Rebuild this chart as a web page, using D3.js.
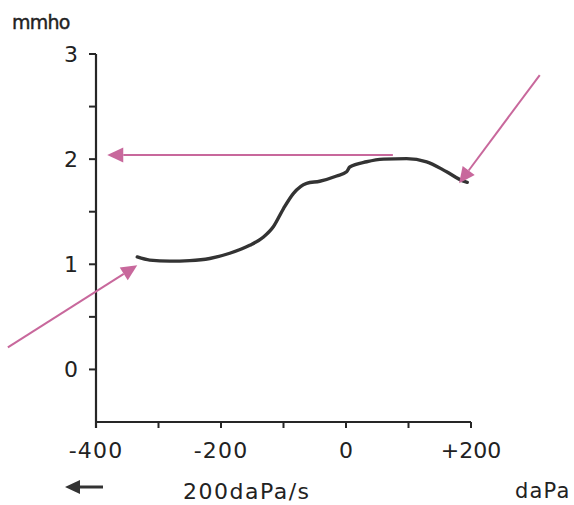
<!DOCTYPE html>
<html><head><meta charset="utf-8">
<script src="https://cdn.jsdelivr.net/npm/d3@7"></script>
<style>
html,body{margin:0;padding:0;background:#fff;}
svg{display:block;}
text{font-family:"DejaVu Sans",Verdana,sans-serif;fill:#222;}
</style></head>
<body>
<svg id="chart" width="574" height="505"></svg>
<script>
// Data
const curveX = [-334, -314, -282, -250, -218, -186, -154, -132, -116, -100, -84, -63, -42, -15, 1, 6, 33, 60, 97, 129, 161, 188, 194];
const curveY = [1.07, 1.04, 1.03, 1.035, 1.055, 1.105, 1.18, 1.26, 1.36, 1.53, 1.675, 1.77, 1.79, 1.84, 1.88, 1.925, 1.975, 2.0, 2.005, 1.975, 1.88, 1.79, 1.78];
const xMajorTicks = [-400, -200, 0, 200];
const xMinorTicks = [-300, -100, 100];
const xTickLabels = ["-400", "-200", "0", "+200"];
const yMajorTicks = [0, 1, 2, 3];
const yMinorTicks = [0.5, 1.5, 2.5];
const yTickLabels = ["0", "1", "2", "3"];
// annotation arrows in data units: [x1,y1,x2(tip),y2(tip)]
const arrows = [
  [75, 2.04, -382, 2.04],
  [-541, 0.21, -334, 0.99],
  [310, 2.80, 181, 1.77]
];

const svg = d3.select("#chart");
const x = d3.scaleLinear().domain([-400, 200]).range([96, 471]);
const y = d3.scaleLinear().domain([-0.5, 3]).range([422, 54]);
const axisColor = "#262626";

// Y axis
const yAxis = svg.append("g").attr("transform", `translate(${x(-400)},0)`);
yAxis.append("line").attr("x1",0).attr("x2",0).attr("y1",y(3)).attr("y2",y(-0.5)+6)
  .attr("stroke",axisColor).attr("stroke-width",2.2);
yAxis.selectAll(".ymaj").data(yMajorTicks.concat(yMinorTicks)).enter().append("line")
  .attr("x1",-7).attr("x2",0).attr("y1",d=>y(d)).attr("y2",d=>y(d))
  .attr("stroke",axisColor).attr("stroke-width",2);
yAxis.selectAll(".ylab").data(yMajorTicks).enter().append("text")
  .attr("x",-18).attr("y",d=>y(d)).attr("dy","0.36em")
  .attr("text-anchor","end").attr("font-size",22)
  .text((d,i)=>yTickLabels[i]);

// X axis
const xAxis = svg.append("g").attr("transform", `translate(0,${y(-0.5)})`);
xAxis.append("line").attr("x1",x(-400)).attr("x2",x(200)).attr("y1",0).attr("y2",0)
  .attr("stroke",axisColor).attr("stroke-width",2.2);
xAxis.selectAll(".xt").data(xMajorTicks.concat(xMinorTicks)).enter().append("line")
  .attr("x1",d=>x(d)).attr("x2",d=>x(d)).attr("y1",0).attr("y2",6)
  .attr("stroke",axisColor).attr("stroke-width",2);
xAxis.selectAll(".xl").data(xMajorTicks).enter().append("text")
  .attr("x",d=>x(d)).attr("y",36).attr("text-anchor","middle")
  .attr("font-size",22).attr("letter-spacing",(d,i)=>xTickLabels[i].startsWith("-")?"1.2px":"0px")
  .text((d,i)=>xTickLabels[i]);

// Curve
const pts = curveX.map((d,i)=>[d, curveY[i]]);
svg.append("path").datum(pts)
  .attr("d", d3.line().x(d=>x(d[0])).y(d=>y(d[1])).curve(d3.curveMonotoneX))
  .attr("fill","none").attr("stroke","#333").attr("stroke-width",3.4)
  .attr("stroke-linecap","round").attr("stroke-linejoin","round");

// Pink arrows
const pink = "#c8689c";
arrows.forEach(a=>{
  const x1=x(a[0]), y1=y(a[1]), x2=x(a[2]), y2=y(a[3]);
  const ang = Math.atan2(y2-y1, x2-x1);
  const L=16, W=7.5;
  const bx = x2 - L*Math.cos(ang), by = y2 - L*Math.sin(ang);
  svg.append("line").attr("x1",x1).attr("y1",y1).attr("x2",bx).attr("y2",by)
    .attr("stroke",pink).attr("stroke-width",2);
  const px = -Math.sin(ang), py = Math.cos(ang);
  svg.append("path")
    .attr("d",`M${x2},${y2}L${bx+W*px},${by+W*py}L${bx-W*px},${by-W*py}Z`)
    .attr("fill",pink);
});

// Labels
svg.append("text").attr("x",12).attr("y",29).attr("font-size",19)
  .attr("letter-spacing","-0.8px").attr("stroke","#222").attr("stroke-width",0.4).text("mmho");
svg.append("text").attr("x",183).attr("y",499).attr("font-size",22).attr("letter-spacing","1.5px").text("200daPa/s");
svg.append("text").attr("x",515).attr("y",498).attr("font-size",21).attr("letter-spacing","1.2px").text("daPa");

// Direction arrow next to rate label
svg.append("line").attr("x1",78).attr("x2",103).attr("y1",487).attr("y2",487)
  .attr("stroke","#333").attr("stroke-width",3);
svg.append("path").attr("d","M65,487L80,480L80,494Z").attr("fill","#333");
</script>
</body></html>
